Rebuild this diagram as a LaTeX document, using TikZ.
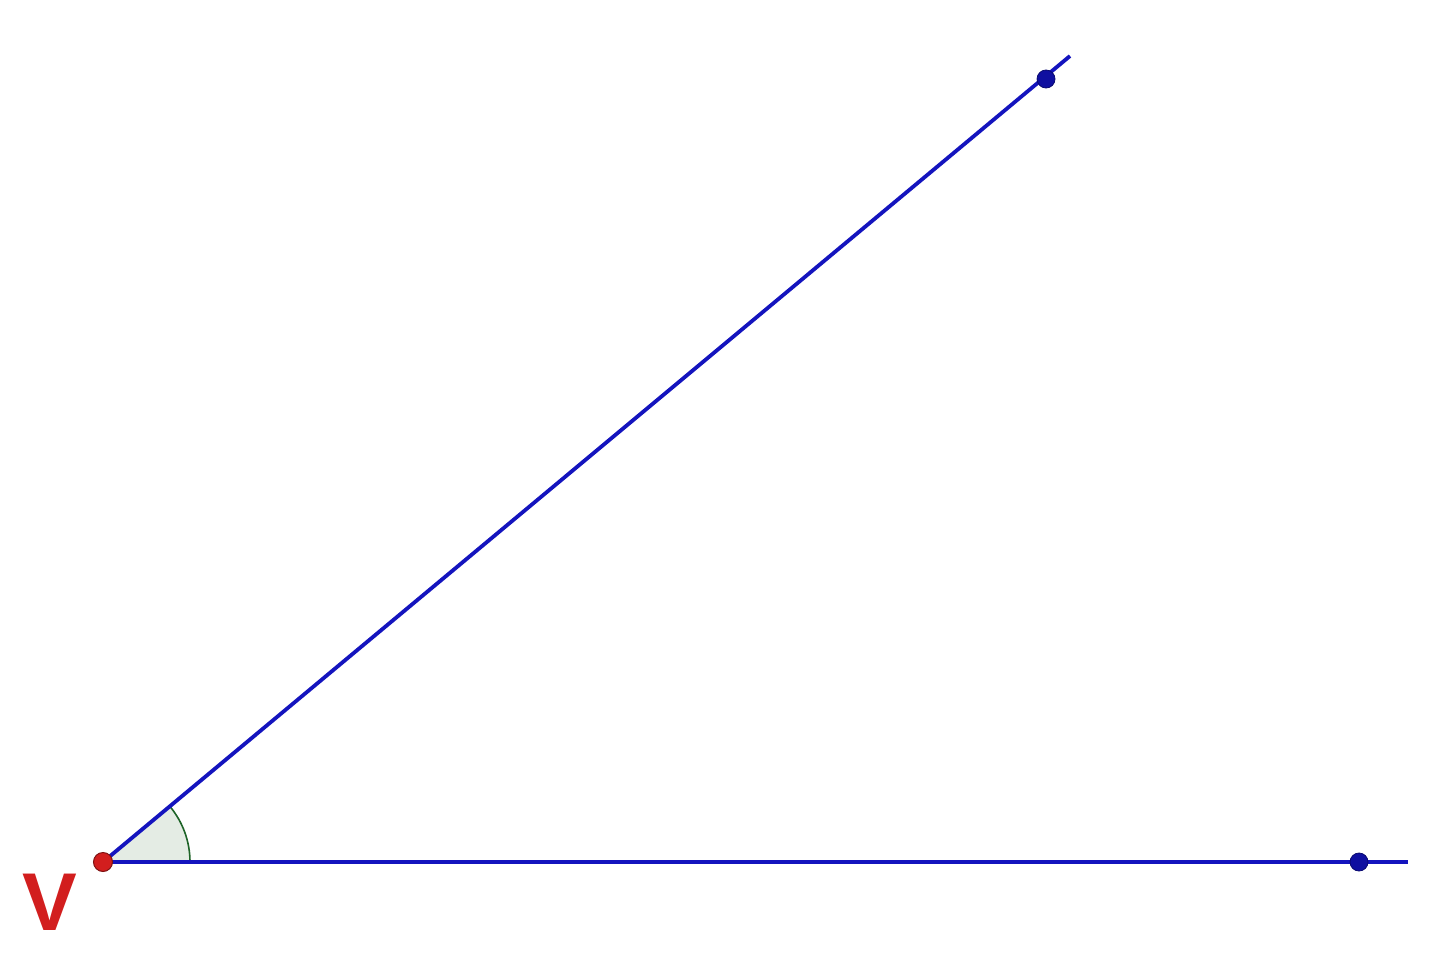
\documentclass[tikz,border=0pt]{standalone}
\usepackage{fontspec}
\setmainfont{Liberation Sans}
\definecolor{rayblue}{RGB}{20,20,190}
\definecolor{ptblue}{RGB}{15,15,160}
\definecolor{vred}{RGB}{210,30,30}
\definecolor{arcgreen}{RGB}{30,100,40}
\definecolor{arcfill}{RGB}{228,236,228}
\begin{document}
\begin{tikzpicture}[x=1pt,y=-1pt,
  ray/.style={draw=rayblue,line width=3.8pt},
  ptdot/.style={circle,fill=ptblue,draw=ptblue!70!black,line width=0.8pt,inner sep=0pt,minimum size=18pt},
  vdot/.style={circle,fill=vred,draw=vred!60!black,line width=1pt,inner sep=0pt,minimum size=19pt},
  lbl/.style={text=vred,font=\bfseries\fontsize{82}{82}\selectfont,inner sep=0pt}]
\useasboundingbox (0,0) rectangle (1440,958);
\coordinate (V) at (103,862);
\coordinate (E1) at (1408,862);
\coordinate (E2) at (1070,56);
% angle sector
\fill[arcfill] (V) -- ++(87,0) arc[start angle=0,end angle=39.7,radius=87pt] -- cycle;
\draw[arcgreen,line width=1.6pt] (V) ++(87,0) arc[start angle=0,end angle=39.7,radius=87pt];
\draw[ray] (V) -- (E1);
\draw[ray] (V) -- (E2);
\node[ptdot] (B) at (1359,862) {};
\node[ptdot] (A) at (1046,79) {};
\node[vdot] (Vd) at (V) {};
\node[lbl] (Vl) at (50,902) {V};
\end{tikzpicture}
\end{document}
